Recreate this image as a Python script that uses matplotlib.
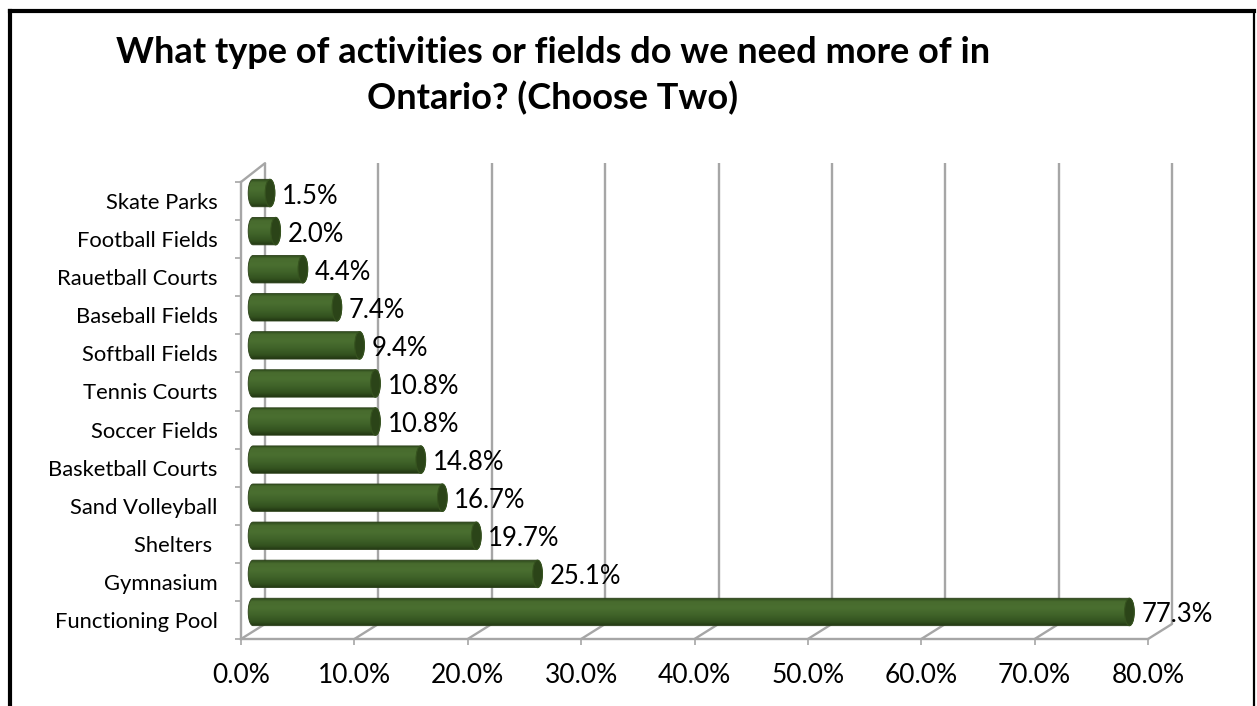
import numpy as np
import matplotlib
matplotlib.use('Agg')
import matplotlib.pyplot as plt
from matplotlib.transforms import offset_copy
from matplotlib.path import Path
from matplotlib.patches import PathPatch, Ellipse, ConnectionPatch
from matplotlib.colors import LinearSegmentedColormap
from matplotlib.lines import Line2D

plt.rcParams['font.family'] = ['Lato', 'DejaVu Sans']

# survey results, bottom to top
categories = ['Functioning Pool', 'Gymnasium', 'Shelters ', 'Sand Volleyball',
              'Basketball Courts', 'Soccer Fields', 'Tennis Courts',
              'Softball Fields', 'Baseball Fields', 'Rauetball Courts',
              'Football Fields', 'Skate Parks']
values = [77.3, 25.1, 19.7, 16.7, 14.8, 10.8, 10.8, 9.4, 7.4, 4.4, 2.0, 1.5]
x_ticks = [0, 10, 20, 30, 40, 50, 60, 70, 80]
x_tick_labels = [f'{t:.1f}%' for t in x_ticks]
title = 'What type of activities or fields do we need more of in\nOntario? (Choose Two)'

W, H = 1257, 706
GRID = '#a6a6a6'
DEPTH = (24, 15)      # back wall offset in pixels
BAR_H = 0.72
CAP_W = 0.85          # width of the cylinder end ellipse in x units

n = len(categories)
y = np.arange(n)
slot = (639 - 182) / n
# one spare slot above the plot so the top cylinder is not cut by the axes box
fig = plt.figure(figsize=(W / 100, H / 100), dpi=100)
ax = fig.add_axes([241 / W, 1 - 639 / H, (1148 - 241) / W, slot * (n + 1) / H])

back = offset_copy(ax.transData, fig, x=DEPTH[0], y=DEPTH[1], units='dots')
mid = offset_copy(ax.transData, fig, x=DEPTH[0] / 2, y=DEPTH[1] / 2 + 0.5, units='dots')


def depth_line(x0, y0, y1):
    # oblique line from the front plane to the back wall
    ax.add_artist(ConnectionPatch((x0, y0), (x0, y1), coordsA=ax.transData,
                                  coordsB=back, color=GRID, lw=1.7, zorder=1,
                                  shrinkA=0, shrinkB=0))


# back wall gridlines and floor lines
for t in x_ticks:
    ax.plot([t, t], [-0.5, n - 0.4], color=GRID, lw=1.7, transform=back,
            clip_on=False, zorder=1, solid_capstyle='butt')
    depth_line(t, -0.5, -0.5)
# top edge of the side wall
depth_line(0, n - 0.5, n - 0.4)

# cylinder bars
cmap = LinearSegmentedColormap.from_list('cyl', [
    (0.0, '#2e4a1b'), (0.12, '#486b2e'), (0.35, '#4a6f30'),
    (0.6, '#406329'), (0.85, '#33521f'), (1.0, '#223713')])
grad = np.linspace(0, 1, 64).reshape(-1, 1)
theta = np.linspace(np.pi / 2, 3 * np.pi / 2, 40)
for yi, v in zip(y, values):
    lx = CAP_W / 2 * np.cos(theta)
    ly = yi + BAR_H / 2 * np.sin(theta)
    rx = v - CAP_W / 2 * np.cos(theta)
    ry = yi - BAR_H / 2 * np.sin(theta)
    verts = np.column_stack([np.r_[lx, rx, lx[0]], np.r_[ly, ry, ly[0]]])
    shape = Path(verts, closed=True)
    clip = PathPatch(shape, transform=mid)
    im = ax.imshow(grad, cmap=cmap, extent=(-CAP_W / 2, v + CAP_W / 2,
                                            yi - BAR_H / 2, yi + BAR_H / 2),
                   origin='upper', aspect='auto', transform=mid, zorder=3,
                   interpolation='bilinear')
    im.set_clip_path(clip)
    ax.add_patch(PathPatch(shape, transform=mid, facecolor='none',
                           edgecolor='#2a3f18', lw=0.6, zorder=4, clip_on=False))
    ax.add_patch(Ellipse((v, yi), CAP_W, BAR_H, transform=mid, facecolor='#2b4418',
                         edgecolor='#36531f', lw=0.8, zorder=5, clip_on=False))
    ax.annotate(f'{v:.1f}%', xy=(v, yi), xytext=(24, 5), textcoords='offset pixels',
                ha='left', va='center', fontsize=18.5, color='black',
                annotation_clip=False, zorder=6)

ax.set_xlim(0, 80)
ax.set_ylim(-0.5, n + 0.5)

# front edges of the side wall and floor
for side in ['top', 'right']:
    ax.spines[side].set_visible(False)
for side in ['left', 'bottom']:
    ax.spines[side].set_color(GRID)
    ax.spines[side].set_linewidth(1.7)
    ax.spines[side].set_zorder(1)
ax.spines['left'].set_bounds(-0.5, n - 0.5)
ax.set_xticks(x_ticks)
ax.set_xticklabels(x_tick_labels, fontsize=19)
ax.set_yticks(np.arange(-0.5, n, 1.0))
ax.set_yticklabels([])
ax.set_yticks(y, minor=True)
ax.set_yticklabels(categories, minor=True, fontsize=15.8)
ax.tick_params(axis='x', direction='out', length=4.5, width=1.2, color=GRID, pad=13)
ax.tick_params(axis='y', which='major', direction='out', length=4, width=1.2, color=GRID)
ax.tick_params(axis='y', which='minor', length=0, pad=17)
ax.patch.set_visible(False)

fig.text(553 / W, 1 - 76 / H, title, ha='center', va='center', fontsize=26,
         fontweight='bold', linespacing=1.42)

# chart area border
for xs, ys, lw in [([10 / W, 10 / W], [0, 1 - 11 / H], 3.0),
                   ([10 / W, 1254 / W], [1 - 11 / H, 1 - 11 / H], 3.0),
                   ([1254 / W, 1254 / W], [0, 1 - 11 / H], 1.6)]:
    fig.add_artist(Line2D(xs, ys, transform=fig.transFigure, color='black', lw=lw,
                          solid_capstyle='projecting'))

fig.savefig('out.png', dpi=100)
